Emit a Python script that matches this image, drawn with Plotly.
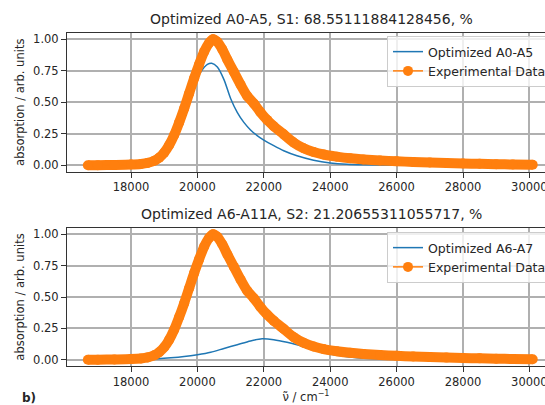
import plotly.graph_objects as go

# ---------------- data ----------------
exp_wavenumber = [16700, 17000, 17500, 18000, 18300, 18500, 18700, 18850, 19000, 19150,
                  19300, 19450, 19600, 19750, 19900, 20050, 20200, 20350, 20470, 20600,
                  20750, 20900, 21100, 21300, 21500, 21700, 21900, 22100, 22300, 22600,
                  22900, 23200, 23500, 23800, 24200, 24600, 25000, 25500, 26000, 26500,
                  27000, 27500, 28000, 28500, 29000, 29500, 30100]
exp_absorption = [0.0, 0.0, 0.002, 0.005, 0.01, 0.018, 0.035, 0.06, 0.10, 0.16,
                  0.24, 0.34, 0.45, 0.57, 0.69, 0.80, 0.90, 0.97, 1.00, 0.98,
                  0.92, 0.84, 0.74, 0.64, 0.55, 0.49, 0.42, 0.36, 0.31, 0.245,
                  0.18, 0.135, 0.105, 0.085, 0.068, 0.055, 0.046, 0.038, 0.031, 0.026,
                  0.021, 0.017, 0.014, 0.011, 0.008, 0.006, 0.004]

a05_wavenumber = [16700, 17500, 18000, 18500, 18700, 19000, 19300, 19600, 19900, 20100,
                  20300, 20430, 20600, 20800, 21000, 21200, 21400, 21600, 21800, 22000,
                  22300, 22600, 23000, 23500, 24000, 24500, 25000, 26000, 28000, 30100]
a05_absorption = [0.0, 0.0, 0.003, 0.015, 0.03, 0.09, 0.22, 0.43, 0.64, 0.74,
                  0.80, 0.81, 0.78, 0.68, 0.53, 0.42, 0.34, 0.28, 0.235, 0.20,
                  0.155, 0.115, 0.075, 0.04, 0.018, 0.007, 0.003, 0.001, 0.0, 0.0]

a67_wavenumber = [16700, 18000, 18800, 19200, 19600, 20000, 20400, 20800, 21200, 21600,
                  21950, 22300, 22700, 23000, 23400, 23800, 24200, 24800, 25500, 26500,
                  28000, 30100]
a67_absorption = [0.0, 0.0, 0.008, 0.015, 0.025, 0.04, 0.06, 0.09, 0.12, 0.15,
                  0.167, 0.16, 0.14, 0.12, 0.085, 0.055, 0.035, 0.015, 0.007, 0.002,
                  0.0, 0.0]

x_tick_values = [18000, 20000, 22000, 24000, 26000, 28000, 30000]
x_tick_labels = ["18000", "20000", "22000", "24000", "26000", "28000", "30000"]
y_tick_values = [0.0, 0.25, 0.5, 0.75, 1.0]
y_tick_labels = ["0.00", "0.25", "0.50", "0.75", "1.00"]

title_top = "Optimized A0-A5, S1: 68.55111884128456, %"
title_bottom = "Optimized A6-A11A, S2: 21.20655311055717, %"
name_top = "Optimized A0-A5"
name_bottom = "Optimized A6-A7"
name_exp = "Experimental Data"

# ---------------- styling ----------------
W, H = 545, 405
BLUE = "#1f77b4"
ORANGE = "#ff7f0e"
FONT = "DejaVu Sans"
TXT = "#262626"

x_left_px = 67
x_range = [16072, 30470]
top_px = (33, 171.5)
bot_px = (228, 366)


def ydom(p):
    return [1 - p[1] / H, 1 - p[0] / H]


fig = go.Figure()

for i, (wn, ab, nm) in enumerate([(a05_wavenumber, a05_absorption, name_top),
                                  (a67_wavenumber, a67_absorption, name_bottom)]):
    xa = "x" if i == 0 else "x2"
    ya = "y" if i == 0 else "y2"
    lg = "legend" if i == 0 else "legend2"
    fig.add_trace(go.Scatter(x=wn, y=ab, mode="lines", name=nm, xaxis=xa, yaxis=ya,
                             line=dict(color=BLUE, width=1.5, shape="spline", smoothing=0.8),
                             legend=lg))
    fig.add_trace(go.Scatter(x=exp_wavenumber, y=exp_absorption, mode="lines", xaxis=xa, yaxis=ya,
                             line=dict(color=ORANGE, width=10, shape="spline", smoothing=0.8),
                             showlegend=False, hoverinfo="skip"))
    fig.add_trace(go.Scatter(x=exp_wavenumber, y=exp_absorption, mode="lines+markers", name=name_exp,
                             xaxis=xa, yaxis=ya,
                             line=dict(color=ORANGE, width=1.5, shape="spline", smoothing=0.8),
                             marker=dict(color=ORANGE, size=10), legend=lg))

axis_common = dict(
    showgrid=True, gridcolor="#b0b0b0", gridwidth=1.5,
    showline=True, linecolor="#333333", linewidth=1,
    ticks="outside", ticklen=5, tickcolor="#333333", tickwidth=1,
    tickfont=dict(family=FONT, size=11.5, color=TXT),
    zeroline=False, ticklabeloverflow="allow", automargin=False,
)

xax = dict(axis_common, range=x_range, domain=[x_left_px / W, 1.0], mirror=True,
           tickmode="array", tickvals=x_tick_values, ticktext=x_tick_labels)
yax = dict(axis_common, range=[-0.05, 1.05], tickmode="array",
           tickvals=y_tick_values, ticktext=y_tick_labels)

ytitle = dict(text="absorption / arb. units", font=dict(family=FONT, size=11.5, color=TXT), standoff=6)

legend_common = dict(xanchor="left", yanchor="top",
                     bgcolor="rgba(255,255,255,0.8)", bordercolor="#cccccc", borderwidth=1,
                     font=dict(family=FONT, size=12.5, color=TXT), tracegroupgap=0)

fig.update_layout(
    width=W, height=H,
    margin=dict(l=0, r=0, t=0, b=0, autoexpand=False),
    paper_bgcolor="white", plot_bgcolor="white",
    font=dict(family=FONT, size=11, color=TXT),
    xaxis=dict(xax, anchor="y"),
    yaxis=dict(yax, domain=ydom(top_px), anchor="x", title=ytitle),
    xaxis2=dict(xax, anchor="y2",
                title=dict(text="\u03bd\u0303 / cm<sup>\u22121</sup>",
                           font=dict(family=FONT, size=11.5, color=TXT), standoff=4)),
    yaxis2=dict(yax, domain=ydom(bot_px), anchor="x2", title=ytitle),
    legend=dict(legend_common, x=387 / W, y=1 - 36 / H),
    legend2=dict(legend_common, x=387 / W, y=1 - 232 / H),
    showlegend=True,
)

center_x = (x_left_px + 555) / 2 / W
fig.add_annotation(text=title_top, x=center_x, y=1 - 19 / H, xref="paper", yref="paper",
                   showarrow=False, xanchor="center", yanchor="middle",
                   font=dict(family=FONT, size=14, color=TXT))
fig.add_annotation(text=title_bottom, x=center_x, y=1 - 214 / H, xref="paper", yref="paper",
                   showarrow=False, xanchor="center", yanchor="middle",
                   font=dict(family=FONT, size=14, color=TXT))
fig.add_annotation(text="<b>b)</b>", x=20 / W, y=1 - 398 / H, xref="paper", yref="paper",
                   showarrow=False, xanchor="left", yanchor="middle",
                   font=dict(family=FONT, size=12, color=TXT))

fig.write_html("out.html")
